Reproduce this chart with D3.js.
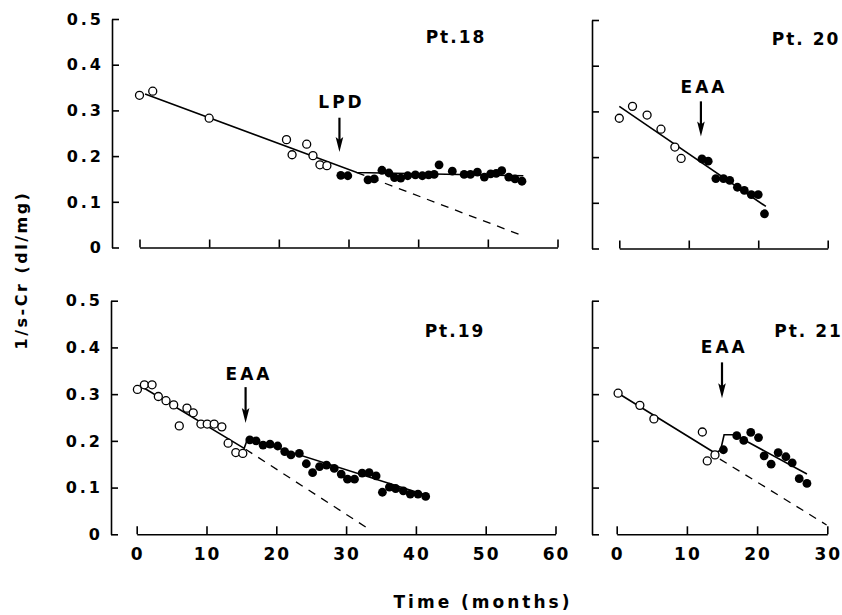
<!DOCTYPE html>
<html><head><meta charset="utf-8">
<script src="https://cdn.jsdelivr.net/npm/d3@7/dist/d3.min.js"></script>
<style>
html,body{margin:0;padding:0;background:#fff;}
svg{display:block;}
text{font-family:"DejaVu Sans",Arial,sans-serif;font-weight:bold;fill:#000;}
</style></head>
<body>
<script>
// ---------- DATA ----------
const yTicks = [0, 0.1, 0.2, 0.3, 0.4, 0.5];
const yTickLabels = ["0", "0.1", "0.2", "0.3", "0.4", "0.5"];
const xTicksLong = [0, 10, 20, 30, 40, 50, 60];
const xTicksShort = [0, 10, 20, 30];

// Pt.18
const pt18OpenMonths = [0, 1.9, 10, 21.1, 21.9, 24.0, 24.9, 25.9, 26.9];
const pt18OpenValues = [0.333, 0.342, 0.283, 0.236, 0.203, 0.226, 0.201, 0.181, 0.179];
const pt18FilledMonths = [28.9, 29.9, 32.8, 33.7, 34.8, 35.8, 36.6, 37.5, 38.5, 39.6, 40.6, 41.5, 42.3, 43.0, 44.9, 46.6, 47.5, 48.5, 49.5, 50.4, 51.2, 52.0, 53.0, 53.9, 54.9];
const pt18FilledValues = [0.158, 0.157, 0.148, 0.150, 0.169, 0.163, 0.153, 0.152, 0.157, 0.159, 0.157, 0.159, 0.160, 0.181, 0.167, 0.160, 0.160, 0.165, 0.154, 0.161, 0.162, 0.168, 0.154, 0.150, 0.145];
const pt18SolidMonths = [0.8, 31.2, 55.1];
const pt18SolidValues = [0.336, 0.164, 0.157];
const pt18DashMonths = [31.2, 55.3];
const pt18DashValues = [0.164, 0.024];

// Pt.20
const pt20OpenMonths = [0, 1.9, 4.0, 6.0, 8.0, 8.9];
const pt20OpenValues = [0.285, 0.311, 0.292, 0.261, 0.222, 0.197];
const pt20FilledMonths = [11.9, 12.8, 13.9, 15.0, 15.9, 17.0, 18.0, 19.0, 20.0, 20.9];
const pt20FilledValues = [0.196, 0.191, 0.153, 0.153, 0.149, 0.134, 0.127, 0.118, 0.118, 0.076];
const pt20SolidMonths = [0, 21.1];
const pt20SolidValues = [0.311, 0.092];

// Pt.19
const pt19OpenMonths = [0.1, 1.1, 2.2, 3.1, 4.2, 5.3, 6.1, 7.2, 8.1, 9.2, 10.1, 11.1, 12.2, 13.1, 14.2, 15.2];
const pt19OpenValues = [0.310, 0.320, 0.320, 0.295, 0.286, 0.277, 0.232, 0.270, 0.260, 0.236, 0.236, 0.236, 0.230, 0.195, 0.175, 0.173];
const pt19FilledMonths = [16.2, 17.1, 18.1, 19.1, 20.2, 21.2, 22.1, 23.3, 24.3, 25.2, 26.2, 27.2, 28.3, 29.3, 30.2, 31.2, 32.3, 33.3, 34.3, 35.2, 36.2, 37.1, 38.2, 39.2, 40.3, 41.4];
const pt19FilledValues = [0.202, 0.200, 0.191, 0.193, 0.189, 0.177, 0.170, 0.173, 0.151, 0.132, 0.145, 0.148, 0.141, 0.129, 0.118, 0.118, 0.131, 0.132, 0.125, 0.090, 0.101, 0.098, 0.093, 0.086, 0.086, 0.081];
const pt19SolidMonths = [0.5, 15.4, 15.9, 41.4];
const pt19SolidValues = [0.318, 0.184, 0.205, 0.084];
const pt19DashMonths = [15.6, 33.5];
const pt19DashValues = [0.182, 0.009];

// Pt.21
const pt21OpenMonths = [0.2, 3.3, 5.3, 12.2, 12.9, 14.0];
const pt21OpenValues = [0.302, 0.276, 0.247, 0.219, 0.157, 0.170];
const pt21FilledMonths = [15.2, 17.1, 18.1, 19.1, 20.2, 21.0, 22.0, 23.0, 24.1, 25.0, 26.0, 27.1];
const pt21FilledValues = [0.181, 0.211, 0.201, 0.218, 0.207, 0.168, 0.150, 0.175, 0.166, 0.153, 0.119, 0.109];
const pt21SolidMonths = [0.2, 14.0, 14.8, 15.3, 16.8, 27.1];
const pt21SolidValues = [0.302, 0.174, 0.180, 0.213, 0.213, 0.129];
const pt21DashMonths = [14.7, 29.9];
const pt21DashValues = [0.161, 0.020];

// Panel labels and interventions
const panelNames = ["Pt.18", "Pt. 20", "Pt.19", "Pt. 21"];
const interventionNames = ["LPD", "EAA", "EAA", "EAA"];
const arrowMonths = [28.7, 11.75, 15.6, 15.0];
const arrowTopValues = [0.284, 0.322, 0.315, 0.368];
const arrowBottomValues = [0.209, 0.245, 0.238, 0.291];

const yTitle = "1/s-Cr (dl/mg)";
const xTitle = "Time (months)";

// ---------- LAYOUT ----------
const W = 842, H = 615;
const svg = d3.select("body").append("svg").attr("width", W).attr("height", H);

const zip = (a, b) => a.map((v, i) => [v, b[i]]);

const panels = [
  {xr:[139.5, 557.5], xmax:60, yr:[247.5, 19], axisX:112, ticks:xTicksLong, showY:true, showX:false,
   open:zip(pt18OpenMonths, pt18OpenValues), filled:zip(pt18FilledMonths, pt18FilledValues),
   solid:zip(pt18SolidMonths, pt18SolidValues), dash:zip(pt18DashMonths, pt18DashValues),
   label:[455, 43], note:[340, 108]},
  {xr:[619.3, 827.7], xmax:30, yr:[248.5, 20], axisX:592, ticks:xTicksShort, showY:false, showX:false,
   open:zip(pt20OpenMonths, pt20OpenValues), filled:zip(pt20FilledMonths, pt20FilledValues),
   solid:zip(pt20SolidMonths, pt20SolidValues), dash:null,
   label:[805, 45], note:[702.5, 93]},
  {xr:[136.7, 555.5], xmax:60, yr:[534.3, 300.7], axisX:111, ticks:xTicksLong, showY:true, showX:true,
   open:zip(pt19OpenMonths, pt19OpenValues), filled:zip(pt19FilledMonths, pt19FilledValues),
   solid:zip(pt19SolidMonths, pt19SolidValues), dash:zip(pt19DashMonths, pt19DashValues),
   label:[454, 337], note:[247.5, 380]},
  {xr:[616.7, 827.3], xmax:30, yr:[534.3, 300.7], axisX:592, ticks:xTicksShort, showY:false, showX:true,
   open:zip(pt21OpenMonths, pt21OpenValues), filled:zip(pt21FilledMonths, pt21FilledValues),
   solid:zip(pt21SolidMonths, pt21SolidValues), dash:zip(pt21DashMonths, pt21DashValues),
   label:[807.5, 337], note:[722.8, 353]}
];

panels.forEach((p, i) => {
  const x = d3.scaleLinear().domain([0, p.xmax]).range(p.xr);
  const y = d3.scaleLinear().domain([0, 0.5]).range(p.yr);
  const g = svg.append("g");

  // Y axis (inward ticks)
  const yAxis = d3.axisRight(y).tickValues(yTicks).tickSize(7).tickSizeOuter(0).tickFormat("");
  const ya = g.append("g").attr("transform", `translate(${p.axisX},0)`).call(yAxis);
  ya.selectAll("path,line").attr("stroke", "#000").attr("stroke-width", 1.6);

  if (p.showY) {
    g.selectAll(".ylab").data(yTicks).enter().append("text")
      .attr("x", p.axisX - 8).attr("y", d => y(d)).attr("dy", "0.36em")
      .attr("text-anchor", "end").style("font-size", "16px").style("letter-spacing", "3px")
      .text((d, k) => yTickLabels[k]);
  }

  // X axis (upward ticks)
  const xAxis = d3.axisTop(x).tickValues(p.ticks).tickSize(8).tickSizeOuter(0).tickFormat("");
  const xa = g.append("g").attr("transform", `translate(0,${y(0)})`).call(xAxis);
  xa.selectAll("path,line").attr("stroke", "#000").attr("stroke-width", 1.6);

  if (p.showX) {
    g.selectAll(".xlab").data(p.ticks).enter().append("text")
      .attr("x", d => x(d) + 1).attr("y", y(0) + 26)
      .attr("text-anchor", "middle").style("font-size", "17px").style("letter-spacing", "2px")
      .text(d => d);
  }

  const line = d3.line().x(d => x(d[0])).y(d => y(d[1]));
  if (p.dash) {
    g.append("path").attr("d", line(p.dash)).attr("fill", "none")
      .attr("stroke", "#000").attr("stroke-width", 1.3).attr("stroke-dasharray", "8,7");
  }
  g.append("path").attr("d", line(p.solid)).attr("fill", "none")
    .attr("stroke", "#000").attr("stroke-width", 1.6);

  g.selectAll(".op").data(p.open).enter().append("circle")
    .attr("cx", d => x(d[0])).attr("cy", d => y(d[1])).attr("r", 4)
    .attr("fill", "#fff").attr("stroke", "#000").attr("stroke-width", 1.3);
  g.selectAll(".fp").data(p.filled).enter().append("circle")
    .attr("cx", d => x(d[0])).attr("cy", d => y(d[1])).attr("r", 4.4)
    .attr("fill", "#000");

  // Arrow (shaft + head)
  const ax = x(arrowMonths[i]), ay1 = y(arrowTopValues[i]), ay2 = y(arrowBottomValues[i]);
  g.append("line").attr("x1", ax).attr("x2", ax).attr("y1", ay1).attr("y2", ay2 - 10)
    .attr("stroke", "#000").attr("stroke-width", 2.2);
  g.append("path")
    .attr("d", `M${ax - 3.8},${ay2 - 15} L${ax},${ay2} L${ax + 3.8},${ay2 - 15} L${ax},${ay2 - 12} Z`)
    .attr("fill", "#000");

  g.append("text").attr("x", p.note[0] + 1.5).attr("y", p.note[1])
    .attr("text-anchor", "middle").style("font-size", "17px").style("letter-spacing", "3px")
    .text(interventionNames[i]);

  g.append("text").attr("x", p.label[0] + 1).attr("y", p.label[1])
    .attr("text-anchor", "middle").style("font-size", "17px").style("letter-spacing", "2px")
    .text(panelNames[i]);
});

// Axis titles
svg.append("text").attr("transform", "translate(27,270) rotate(-90)")
  .attr("text-anchor", "middle").style("font-size", "16px").style("letter-spacing", "2.5px")
  .text(yTitle);
svg.append("text").attr("x", 483).attr("y", 608)
  .attr("text-anchor", "middle").style("font-size", "17px").style("letter-spacing", "3px")
  .text(xTitle);
</script>
</body></html>
